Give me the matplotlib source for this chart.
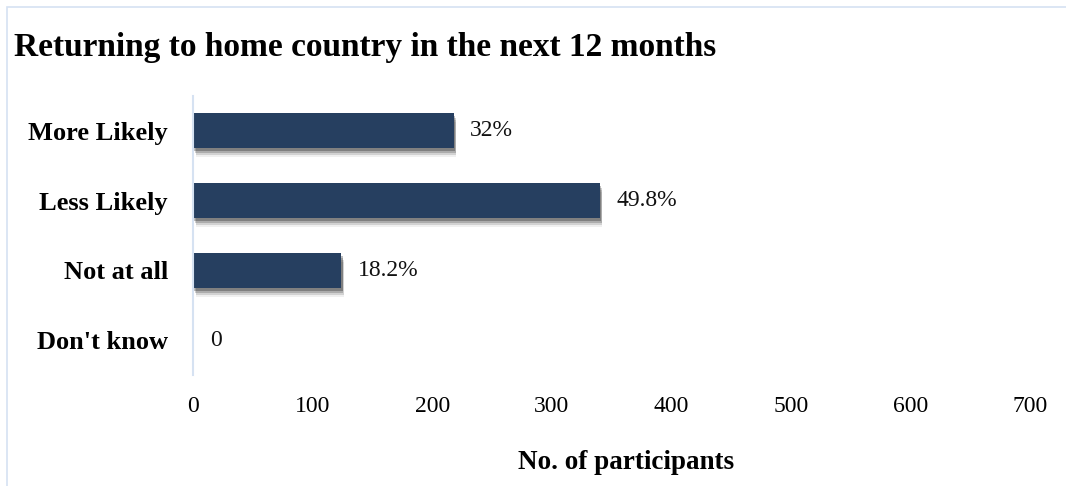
import matplotlib
matplotlib.use('Agg')
import matplotlib.pyplot as plt
import matplotlib.patheffects as pe
from matplotlib.patches import Rectangle

plt.rcParams['font.family'] = ['Liberation Serif', 'DejaVu Serif']

categories = ['More Likely', 'Less Likely', 'Not at all', "Don't know"]
counts = [218, 340, 124, 0]
pct_labels = ['32%', '49.8%', '18.2%', '0']
xticks = [0, 100, 200, 300, 400, 500, 600, 700]

bar_color = '#263f60'
line_color = '#d6e2f2'

fig = plt.figure(figsize=(10.66, 4.86), dpi=100)
# light frame around the chart area
fig.patches.append(Rectangle((7 / 1066, -0.1), 1.2, 1 - 7 / 486 + 0.1,
                             transform=fig.transFigure, fill=False,
                             edgecolor=line_color, linewidth=1.2))

ax = fig.add_axes([193 / 1066, 1 - 375 / 486, (1030 - 193) / 1066, (375 - 96) / 486])

y = list(range(len(categories)))
bars = ax.barh(y, counts, height=0.5, color=bar_color)
# soft drop shadow built from a few stacked offsets
shadow = [pe.SimplePatchShadow(offset=(2, -6.5), shadow_rgbFace='#000000', alpha=0.06),
          pe.SimplePatchShadow(offset=(2, -5), shadow_rgbFace='#000000', alpha=0.12),
          pe.SimplePatchShadow(offset=(1.5, -3.5), shadow_rgbFace='#000000', alpha=0.18),
          pe.SimplePatchShadow(offset=(1, -2), shadow_rgbFace='#000000', alpha=0.25),
          pe.Normal()]
for b in bars:
    if b.get_width() > 0:
        b.set_path_effects(shadow)

for yi, c, lab in zip(y, counts, pct_labels):
    ax.annotate(lab, (c, yi), xytext=(12, 0), textcoords='offset points',
                ha='left', va='center', fontsize=17, color='#111111')

ax.set_xlim(0, 700)
ax.set_ylim(3.5, -0.5)
ax.set_xticks(xticks)
ax.set_xticklabels([str(t) for t in xticks], fontsize=17)
ax.set_yticks(y)
ax.set_yticklabels(categories, fontsize=19, fontweight='bold')
ax.tick_params(axis='x', length=0, pad=15)
ax.tick_params(axis='y', length=0, pad=18)

for s in ['top', 'right', 'bottom']:
    ax.spines[s].set_visible(False)
ax.spines['left'].set_color(line_color)
ax.spines['left'].set_linewidth(1.5)

fig.text(626 / 1066, 1 - 462 / 486, 'No. of participants', ha='center', va='center',
         fontsize=19.5, fontweight='bold')
fig.text(14 / 1066, 1 - 47 / 486, 'Returning to home country in the next 12 months',
         ha='left', va='center', fontsize=24, fontweight='bold')

fig.savefig('out.png', dpi=100, facecolor='white')
